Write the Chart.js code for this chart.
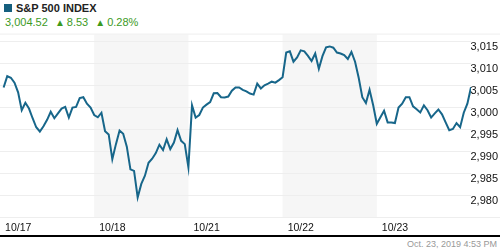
<!DOCTYPE html>
<html>
<head>
<meta charset="utf-8">
<script src="https://cdn.jsdelivr.net/npm/chart.js@4/dist/chart.umd.min.js"></script>
<style>
  body { margin: 0; width: 500px; height: 250px; overflow: hidden; background: #fff; font-family: Arial, "Liberation Sans", sans-serif; position: relative; }
  #head { position: absolute; left: 4px; top: 2px; }
  #title { font-size: 11px; font-weight: bold; color: #222; line-height: 13px; }
  #title span { display: inline-block; width: 8px; height: 8px; background: #155f7e; margin-right: 4px; vertical-align: 0px; }
  #quote { font-size: 11px; color: #3c9a1e; line-height: 13px; margin-top: 1px; padding-left: 1px; }
  #quote i { font-style: normal; font-size: 10px; vertical-align: 0px; margin: 0 2px 0 4px; }
  #wrap { position: absolute; left: 0; top: 28px; width: 500px; height: 207px; }
  #rule { position: absolute; left: 0; top: 235px; width: 500px; height: 2px; background: #000; }
  #stamp { position: absolute; right: 3px; top: 239px; font-size: 9px; color: #999; }
</style>
</head>
<body>
<div id="head">
  <div id="title"><span></span>S&amp;P 500 INDEX</div>
  <div id="quote">3,004.52 <i>&#9650;</i>8.53 <i>&#9650;</i>0.28%</div>
</div>
<div id="wrap"><canvas id="chart"></canvas></div>
<div id="rule"></div>
<div id="stamp">Oct. 23, 2019 4:53 PM</div>
<script>
// 15-minute closes, 26 per session
const days = ["10/17", "10/18", "10/21", "10/22", "10/23"];
const perDay = 26;

const day1 = [3004.47, 3007.03, 3006.68, 3005.57, 3003.37, 2999.30, 3001.00, 2999.68, 2997.47, 2995.42,
              2994.45, 2995.64, 2997.10, 2998.95, 2997.47, 2998.58, 2999.68, 3000.06, 2997.63, 2999.90,
              3000.06, 3002.04, 3002.26, 3000.78, 2999.90, 2998.20];
const day2 = [2997.69, 2998.73, 2994.54, 2993.79, 2988.13, 2991.58, 2994.67, 2993.94, 2991.00, 2985.84,
              2985.49, 2979.44, 2982.53, 2984.38, 2987.32, 2988.27, 2989.53, 2991.45, 2990.25, 2992.68,
              2990.47, 2991.95, 2994.76, 2992.33, 2991.58, 2986.28];
const day3 = [3000.41, 2997.63, 2998.20, 2999.90, 3000.56, 3001.16, 3003.15, 3003.21, 3002.26, 3002.21,
              3002.40, 3003.72, 3004.47, 3004.47, 3003.94, 3003.59, 3003.08, 3002.84, 3005.35, 3004.25,
              3004.98, 3005.35, 3005.79, 3005.57, 3006.15, 3006.81];
const day4 = [3012.42, 3012.70, 3010.34, 3011.31, 3012.92, 3012.70, 3011.67, 3010.50, 3012.20, 3008.73,
              3011.60, 3013.59, 3013.81, 3013.52, 3012.42, 3012.20, 3011.82, 3010.94, 3012.55, 3010.34,
              3006.68, 3002.26, 3000.94, 3003.94, 3000.41, 2996.21];
const day5 = [2997.69, 2999.17, 2996.52, 2996.52, 2996.37, 2999.90, 3000.78, 3002.26, 3002.26, 3000.19,
              2999.53, 2998.80, 3000.41, 2999.30, 2997.63, 2998.58, 2999.46, 2998.36, 2996.52, 2994.76,
              2995.04, 2996.37, 2995.42, 2998.73, 3000.78, 3004.52];

const yTicks = [2980, 2985, 2990, 2995, 3000, 3005, 3010, 3015];
const shadedDays = [1, 3];

const closes = [].concat(day1, day2, day3, day4, day5);
const points = closes.map((v, i) => ({ x: i + 1, y: v }));

const backdrop = {
    id: "backdrop",
    beforeDraw(chart) {
        const ctx = chart.ctx, a = chart.chartArea, xs = chart.scales.x;
        ctx.save();
        ctx.fillStyle = "#f6f6f6";
        shadedDays.forEach(d => {
            const l = xs.getPixelForValue(d * perDay);
            const r = xs.getPixelForValue((d + 1) * perDay);
            ctx.fillRect(l, a.top, r - l, a.bottom - a.top);
        });
        ctx.strokeStyle = "#eeeeee";
        ctx.lineWidth = 1;
        ctx.beginPath();
        ctx.moveTo(0, a.top - 0.5);
        ctx.lineTo(chart.width, a.top - 0.5);
        ctx.moveTo(0, a.bottom + 0.5);
        ctx.lineTo(chart.width, a.bottom + 0.5);
        ctx.stroke();
        ctx.restore();
    }
};

Chart.defaults.font.family = "Arial, 'Liberation Sans', sans-serif";
Chart.defaults.font.size = 11;
Chart.defaults.color = "#111";

new Chart(document.getElementById("chart"), {
    type: "line",
    data: {
        datasets: [{
            data: points,
            borderColor: "#17668a",
            borderWidth: 2,
            pointRadius: 0,
            tension: 0
        }]
    },
    options: {
        responsive: true,
        maintainAspectRatio: false,
        animation: false,
        layout: { padding: { top: 1, right: 2, left: 0, bottom: 0 } },
        plugins: { legend: { display: false }, tooltip: { enabled: false } },
        scales: {
            x: {
                type: "linear",
                min: 0,
                max: days.length * perDay,
                afterBuildTicks: s => { s.ticks = days.map((d, i) => ({ value: i * perDay + 1.4 })); },
                afterFit: s => { s.height = 18; },
                grid: { display: false },
                border: { display: false },
                ticks: {
                    align: "start",
                    maxRotation: 0,
                    padding: -3,
                    font: { size: 10.5 },
                    callback: (v) => days[Math.round((v - 1) / perDay)]
                }
            },
            y: {
                position: "right",
                min: 2975,
                max: 3016.5,
                afterBuildTicks: s => { s.ticks = yTicks.map(v => ({ value: v })); },
                afterFit: s => { s.width = 27; },
                grid: { color: "#eeeeee", drawTicks: false },
                border: { display: false },
                ticks: {
                    padding: 0,
                    crossAlign: "far",
                    labelOffset: 6,
                    callback: v => v.toLocaleString("en-US")
                }
            }
        }
    },
    plugins: [backdrop]
});
</script>
</body>
</html>
